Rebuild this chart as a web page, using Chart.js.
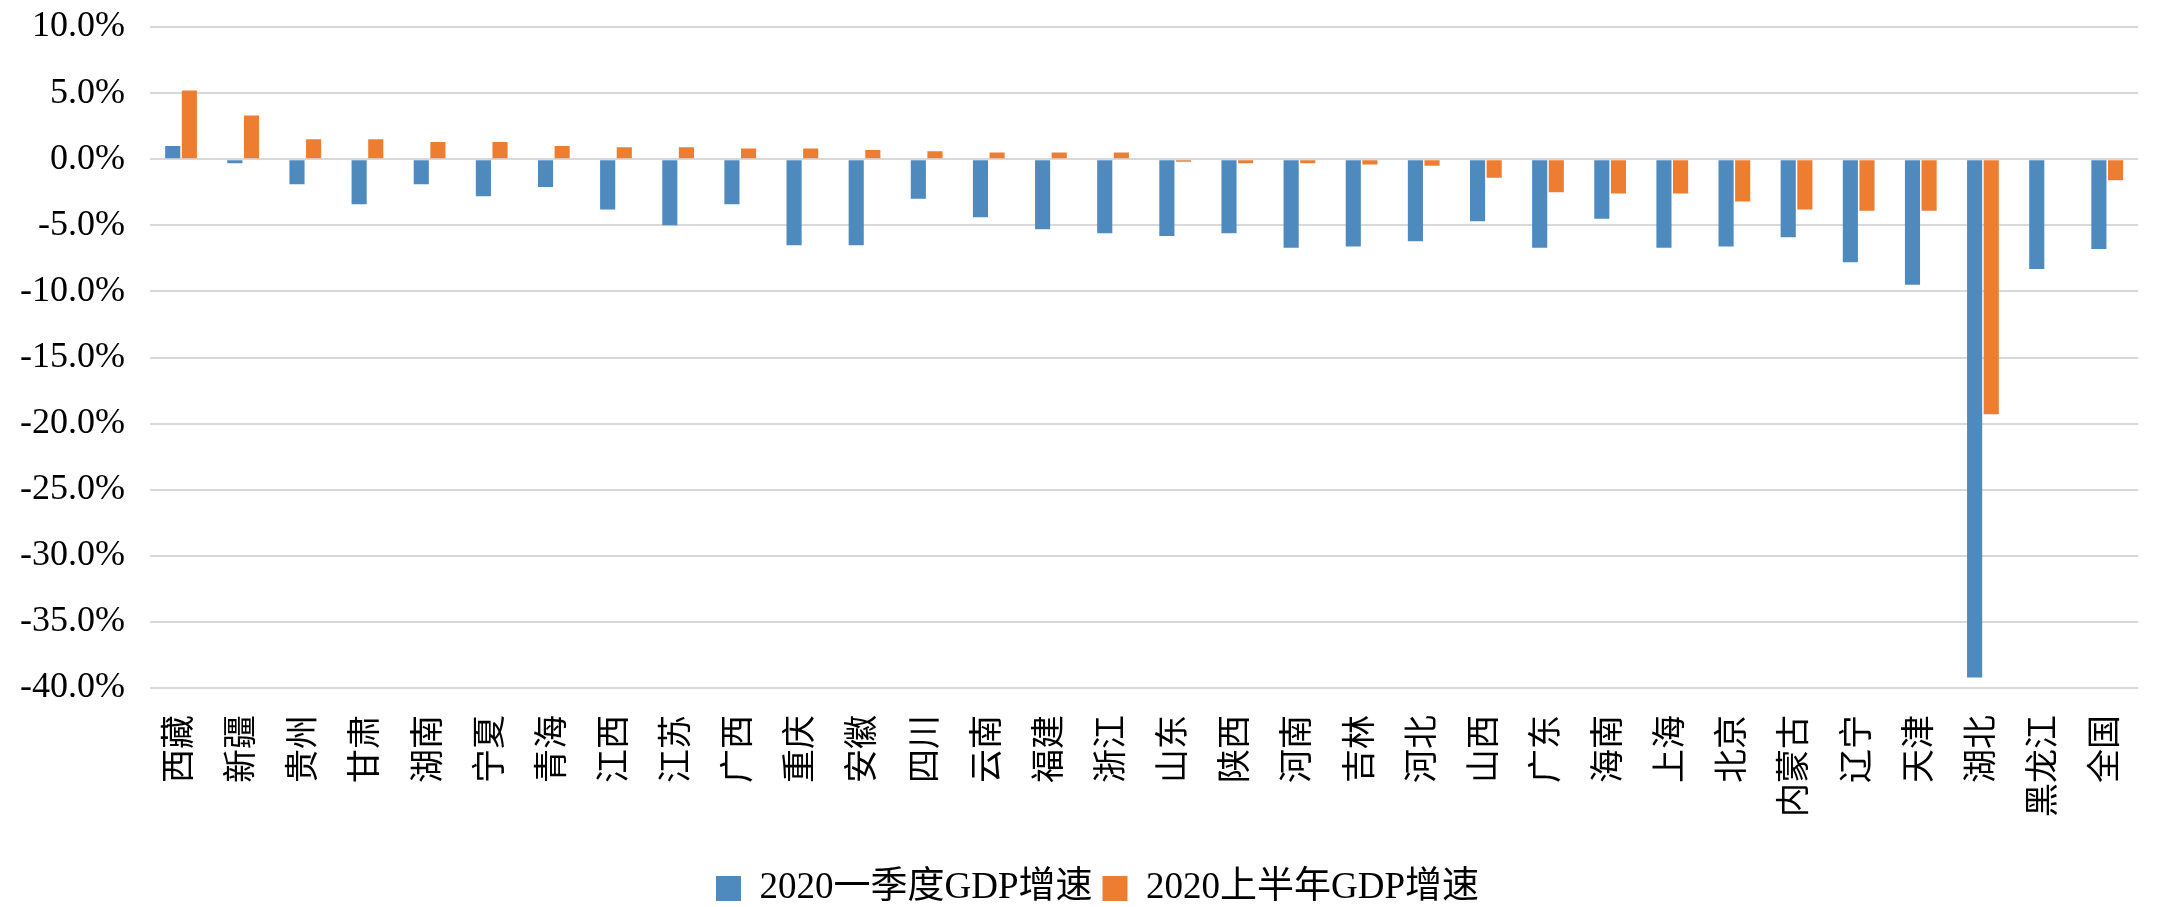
<!DOCTYPE html>
<html>
<head>
<meta charset="utf-8">
<script src="https://cdn.jsdelivr.net/npm/chart.js@4/dist/chart.umd.min.js"></script>
<style>
    body { margin: 0; overflow: hidden; background: #fff; }
    #wrap { width: 2175px; height: 907px; }
</style>
</head>
<body>
<div id="wrap"><canvas id="gdpChart"></canvas></div>
<script>
const provinces = ['西藏', '新疆', '贵州', '甘肃', '湖南', '宁夏', '青海', '江西', '江苏', '广西', '重庆', '安徽', '四川', '云南', '福建', '浙江',
    '山东', '陕西', '河南', '吉林', '河北', '山西', '广东', '海南', '上海', '北京', '内蒙古', '辽宁', '天津', '湖北', '黑龙江', '全国'];

// 2020一季度GDP增速 (%)
const q1Growth = [1.0, -0.3, -1.9, -3.4, -1.9, -2.8, -2.1, -3.8, -5.0, -3.4, -6.5, -6.5, -3.0, -4.4, -5.3, -5.6,
    -5.8, -5.6, -6.7, -6.6, -6.2, -4.7, -6.7, -4.5, -6.7, -6.6, -5.9, -7.8, -9.5, -39.2, -8.3, -6.8];

// 2020上半年GDP增速 (%)
const h1Growth = [5.2, 3.3, 1.5, 1.5, 1.3, 1.3, 1.0, 0.9, 0.9, 0.8, 0.8, 0.7, 0.6, 0.5, 0.5, 0.5,
    -0.2, -0.3, -0.3, -0.4, -0.5, -1.4, -2.5, -2.6, -2.6, -3.2, -3.8, -3.9, -3.9, -19.3, null, -1.6];

const yMin = -40;
const yMax = 10;
const yStep = 5;

const fontFamily = "'Liberation Serif', 'Times New Roman', 'Noto Sans CJK SC', serif";

new Chart(document.getElementById('gdpChart'), {
    type: 'bar',
    data: {
        labels: provinces,
        datasets: [{
            label: '2020一季度GDP增速',
            data: q1Growth,
            backgroundColor: '#4F8ABE',
            categoryPercentage: 0.535,
            barPercentage: 0.91
        }, {
            label: '2020上半年GDP增速',
            data: h1Growth,
            backgroundColor: '#ED7D31',
            categoryPercentage: 0.535,
            barPercentage: 0.91
        }]
    },
    options: {
        responsive: true,
        maintainAspectRatio: false,
        animation: false,
        layout: {
            padding: { top: 0, left: 20, right: 0, bottom: -10 }
        },
        plugins: {
            tooltip: { enabled: false },
            legend: {
                position: 'bottom',
                labels: {
                    color: '#000',
                    font: { family: fontFamily, size: 37 },
                    boxWidth: 25,
                    boxHeight: 25,
                    padding: 10
                }
            }
        },
        scales: {
            x: {
                grid: { display: false, drawTicks: false },
                border: { display: false },
                ticks: {
                    color: '#000',
                    font: { family: fontFamily, size: 34 },
                    autoSkip: false,
                    maxRotation: 90,
                    minRotation: 90,
                    padding: 27
                },
                // room under the labels so the plot bottom stays on -40%
                afterFit: scale => { scale.height += 16; }
            },
            y: {
                min: yMin,
                max: yMax,
                grid: { color: '#d9d9d9', lineWidth: 2, drawTicks: false },
                border: { display: false },
                ticks: {
                    stepSize: yStep,
                    color: '#000',
                    font: { family: fontFamily, size: 36 },
                    padding: 25,
                    callback: v => v.toFixed(1) + '%'
                },
                afterFit: scale => {
                    scale.width -= 25;
                    scale.paddingTop = 27;
                }
            }
        }
    }
});
</script>
</body>
</html>
